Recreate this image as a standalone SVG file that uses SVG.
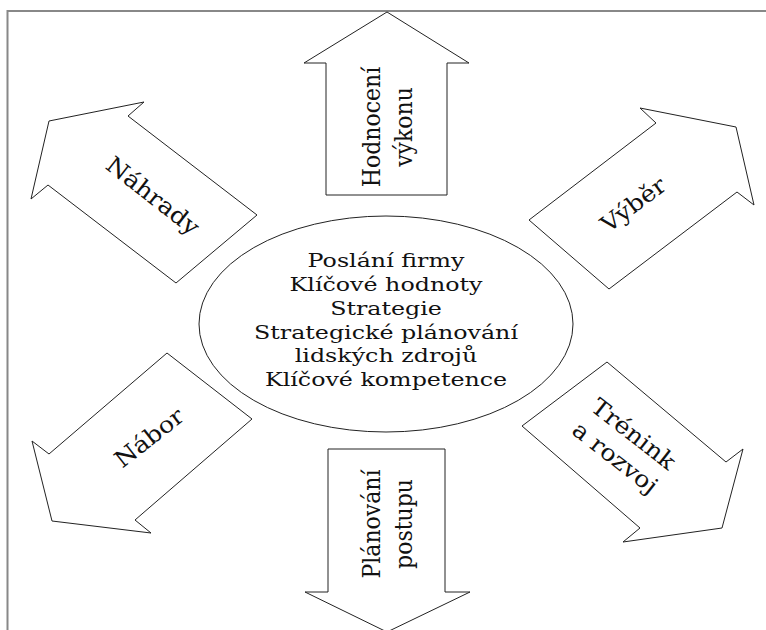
<svg xmlns="http://www.w3.org/2000/svg" width="766" height="630" viewBox="0 0 766 630">
  <style>
    .shape { fill: #ffffff; stroke: #222222; stroke-width: 1; stroke-linejoin: miter; }
    .frame { fill: none; stroke: #888888; stroke-width: 2; }
    .lbl { font-family: "DejaVu Serif", "Liberation Serif", serif; fill: #111111; text-anchor: middle; }
    .core { font-size: 19px; }
    .arr { font-size: 22px; }
    .diag { font-size: 23px; }
  </style>
  <rect width="766" height="630" fill="#ffffff"/>
  <path class="frame" d="M7.5,640 L7.5,11 L780,11"/>

  <g id="connectors"></g>

  <g id="node-hodnoceni">
    <polygon class="shape" points="387,12 469,63 447,63 447,195 326,195 326,63 304,63"/>
    <g transform="translate(380,127) rotate(-90) scale(1,1.08)">
      <text class="lbl arr" x="0" y="0">Hodnocení</text>
      <text class="lbl arr" x="0" y="29.6">výkonu</text>
    </g>
  </g>

  <g id="node-planovani">
    <polygon class="shape" points="328,449 445,449 445,592 470,592 387,632 305,592 328,592"/>
    <g transform="translate(380,524) rotate(-90) scale(1,1.08)">
      <text class="lbl arr" x="0" y="0">Plánování</text>
      <text class="lbl arr" x="0" y="29.6">postupu</text>
    </g>
  </g>

  <g id="node-nahrady">
    <polygon class="shape" points="49,121 144,102 128,116 257,215 176,283 48,185 31,199"/>
    <text class="lbl diag" transform="translate(148,202) rotate(38) scale(1.1,1)">Náhrady</text>
  </g>

  <g id="node-vyber">
    <polygon class="shape" points="640,108 736,127 754,205 737,192 609,289 529,220 656,123"/>
    <text class="lbl diag" transform="translate(638,211) rotate(-37) scale(1.1,1)">Výběr</text>
  </g>

  <g id="node-nabor">
    <polygon class="shape" points="167,353 252,419 135,520 151,533 52,521 32,441 49,454"/>
    <text class="lbl diag" transform="translate(154,444) rotate(-38) scale(1.1,1)">Nábor</text>
  </g>

  <g id="node-trenink">
    <polygon class="shape" points="607,362 726,462 743,449 722,528 623,542 640,528 522,426"/>
    <g transform="translate(625,445) rotate(38) scale(1.1,1)">
      <text class="lbl diag" x="0" y="-6">Trénink</text>
      <text class="lbl diag" x="0" y="24">a rozvoj</text>
    </g>
  </g>

  <g id="node-core">
    <ellipse class="shape" cx="386" cy="324" rx="187" ry="108"/>
    <g transform="translate(386,0) scale(1.25,1)">
      <text class="lbl core" x="0" y="267">Poslání firmy</text>
      <text class="lbl core" x="0" y="291">Klíčové hodnoty</text>
      <text class="lbl core" x="0" y="315">Strategie</text>
      <text class="lbl core" x="0" y="339">Strategické plánování</text>
      <text class="lbl core" x="0" y="362">lidských zdrojů</text>
      <text class="lbl core" x="0" y="386">Klíčové kompetence</text>
    </g>
  </g>
</svg>
